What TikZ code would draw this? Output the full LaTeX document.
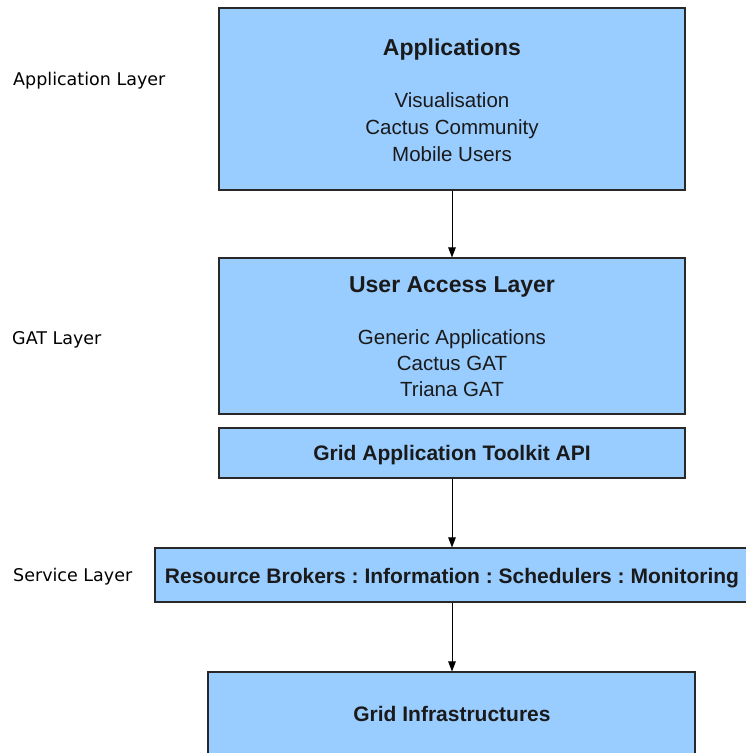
\documentclass[tikz,border=0pt]{standalone}
\usepackage{fontspec}
\setmainfont{Liberation Sans}
\newfontfamily\sidefont{DejaVu Sans}
\usetikzlibrary{arrows.meta}

\definecolor{boxfill}{RGB}{153,204,255}
\definecolor{boxline}{RGB}{40,40,40}
\definecolor{ink}{RGB}{26,26,26}

\begin{document}
\frenchspacing
\begin{tikzpicture}[x=1pt,y=-1pt,
  layerbox/.style={draw=boxline, line width=1.1pt, fill=boxfill, inner sep=0pt},
  headtext/.style={anchor=base, inner sep=0pt, text=ink, font=\fontsize{23}{27}\selectfont\bfseries},
  boldtext/.style={anchor=base, inner sep=0pt, text=ink, font=\fontsize{21}{25}\selectfont\bfseries},
  itemtext/.style={anchor=base, inner sep=0pt, text=ink, font=\fontsize{20.5}{25}\selectfont},
  sidetext/.style={anchor=base west, inner sep=0pt, text=black, font=\sidefont\fontsize{17.5}{21}\selectfont},
  flow/.style={draw=black, line width=0.9pt, -{Triangle[length=10pt,width=7.5pt]}}]

\useasboundingbox (0,0) rectangle (746,753);
\clip (0,0) rectangle (746,753);

% layer boxes
\node[layerbox, minimum width=466pt, minimum height=182pt] (apps) at (452,99) {};
\node[layerbox, minimum width=466pt, minimum height=156pt] (ual) at (452,336) {};
\node[layerbox, minimum width=466pt, minimum height=50pt] (api) at (452,453) {};
\node[layerbox, minimum width=600pt, minimum height=54pt] (svc) at (455,575) {};
\node[layerbox, minimum width=487pt, minimum height=120pt] (infra) at (451.5,732) {};

% box contents
\node[headtext] (appsH) at (452,55) {Applications};
\node[itemtext] (appsA) at (452,107) {Visualisation};
\node[itemtext] (appsB) at (452,134) {Cactus Community};
\node[itemtext] (appsC) at (452,161) {Mobile Users};

\node[headtext] (ualH) at (452,292) {User Access Layer};
\node[itemtext] (ualA) at (452,344) {Generic Applications};
\node[itemtext] (ualB) at (452,370) {Cactus GAT};
\node[itemtext] (ualC) at (452,396) {Triana GAT};

\node[boldtext] (apiT) at (452,460) {Grid Application Toolkit API};
\node[boldtext] (svcT) at (452,583) {Resource Brokers : Information : Schedulers : Monitoring};
\node[boldtext] (infraT) at (452,721) {Grid Infrastructures};

% layer names
\node[sidetext] (lblApp) at (13,85) {Application Layer};
\node[sidetext] (lblGat) at (12,344) {GAT Layer};
\node[sidetext] (lblSvc) at (13,581) {Service Layer};

% connectors
\draw[flow] (apps.south) -- (ual.north);
\draw[flow] (api.south) -- (api.south |- svc.north);
\draw[flow] (svc.south -| api.south) -- (infra.north -| api.south);
\end{tikzpicture}
\end{document}
